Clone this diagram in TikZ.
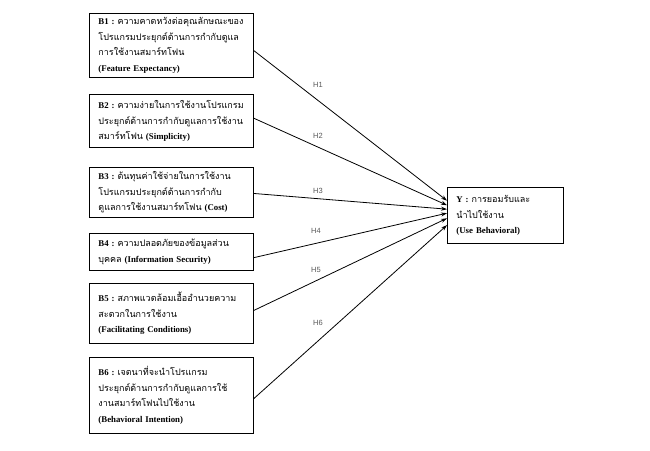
\documentclass[tikz,border=0pt]{standalone}
\usepackage{fontspec}
\setmainfont{Liberation Serif}
\newfontfamily\thai[Script=Thai]{Loma}
\newfontfamily\hlab{Liberation Sans}
\usetikzlibrary{arrows.meta,calc}
\newcommand{\T}[1]{\mbox{\thai\fontsize{9}{15.5}\selectfont #1}}
\newcommand{\E}[1]{{\bfseries #1}}
\begin{document}
\begin{tikzpicture}[x=1pt,y=-1pt,
  box/.style={draw=black,line width=0.9pt,anchor=north west,inner xsep=9pt,inner ysep=2pt,
    align=left,font=\fontsize{8.8}{15.5}\selectfont},
  conn/.style={draw=black,line width=0.8pt,-{Stealth[length=6pt,width=4pt]}},
  hl/.style={text=black!65,font=\hlab\fontsize{7.5}{9}\selectfont,inner sep=0pt}]
\useasboundingbox (0,0) rectangle (650,450);
\fill[white] (0,0) rectangle (650,450);
\node[box,minimum width=164pt,minimum height=64pt,text width=146pt] (b1) at (89,13)
  {\E{B1 :}~\T{ความคาดหวังต่อคุณลักษณะของ}\\\T{โปรแกรมประยุกต์ด้านการกำกับดูแล}\\\T{การใช้งานสมาร์ทโฟน}\\ \E{(Feature Expectancy)}};
\node[box,minimum width=164pt,minimum height=53pt,text width=146pt] (b2) at (89,94)
  {\E{B2 :}~\T{ความง่ายในการใช้งานโปรแกรม}\\\T{ประยุกต์ด้านการกำกับดูแลการใช้งาน}\\\T{สมาร์ทโฟน}~\E{(Simplicity)}};
\node[box,minimum width=164pt,minimum height=50pt,text width=146pt] (b3) at (89,167)
  {\E{B3 :}~\T{ต้นทุนค่าใช้จ่ายในการใช้งาน}\\\T{โปรแกรมประยุกต์ด้านการกำกับ}\\\T{ดูแลการใช้งานสมาร์ทโฟน}~\E{(Cost)}};
\node[box,minimum width=164pt,minimum height=37pt,text width=146pt] (b4) at (89,233)
  {\E{B4 :}~\T{ความปลอดภัยของข้อมูลส่วน}\\\T{บุคคล}~\E{(Information Security)}};
\node[box,minimum width=164pt,minimum height=60pt,text width=146pt] (b5) at (89,283)
  {\E{B5 :}~\T{สภาพแวดล้อมเอื้ออำนวยความ}\\\T{สะดวกในการใช้งาน}\\\E{(Facilitating Conditions)}};
\node[box,minimum width=164pt,minimum height=76pt,text width=146pt] (b6) at (89,357)
  {\E{B6 :}~\T{เจตนาที่จะนำโปรแกรม}\\\T{ประยุกต์ด้านการกำกับดูแลการใช้}\\\T{งานสมาร์ทโฟนไปใช้งาน}\\\E{(Behavioral Intention)}};
\node[box,minimum width=116pt,minimum height=56pt,text width=98pt] (y) at (447,187)
  {\E{Y :}~\T{การยอมรับและ}\\\T{นำไปใช้งาน}\\\E{(Use Behavioral)}};
\draw[conn] ($(b1.north east)!0.58!(b1.south east)$) -- ($(y.north west)!0.24!(y.south west)$);
\draw[conn] ($(b2.north east)!0.45!(b2.south east)$) -- ($(y.north west)!0.32!(y.south west)$);
\draw[conn] ($(b3.north east)!0.52!(b3.south east)$) -- ($(y.north west)!0.39!(y.south west)$);
\draw[conn] ($(b4.north east)!0.65!(b4.south east)$) -- ($(y.north west)!0.46!(y.south west)$);
\draw[conn] ($(b5.north east)!0.45!(b5.south east)$) -- ($(y.north west)!0.55!(y.south west)$);
\draw[conn] ($(b6.north east)!0.54!(b6.south east)$) -- ($(y.north west)!0.67!(y.south west)$);
\node[hl] (h1) at (318,85) {H1};
\node[hl] (h2) at (318,136) {H2};
\node[hl] (h3) at (318,191) {H3};
\node[hl] (h4) at (316,231) {H4};
\node[hl] (h5) at (316,270) {H5};
\node[hl] (h6) at (318,323) {H6};
\end{tikzpicture}
\end{document}
